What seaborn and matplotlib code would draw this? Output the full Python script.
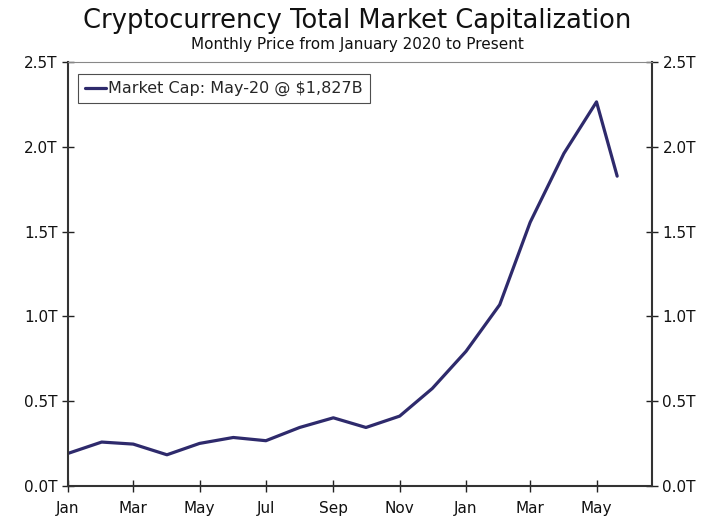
import pandas as pd
import matplotlib
matplotlib.use("Agg")
import matplotlib.pyplot as plt
import matplotlib.dates as mdates
from matplotlib.ticker import FuncFormatter
import seaborn as sns

# Month-start dates plus the latest reading (May 20, 2021)
dates = pd.to_datetime([
    "2020-01-01", "2020-02-01", "2020-03-01", "2020-04-01", "2020-05-01",
    "2020-06-01", "2020-07-01", "2020-08-01", "2020-09-01", "2020-10-01",
    "2020-11-01", "2020-12-01", "2021-01-01", "2021-02-01", "2021-03-01",
    "2021-04-01", "2021-05-01", "2021-05-20",
])
# Total market cap, trillions of USD
market_cap = [
    0.192, 0.259, 0.247, 0.184, 0.251, 0.286, 0.267, 0.345, 0.402, 0.345,
    0.412, 0.575, 0.794, 1.069, 1.555, 1.961, 2.265, 1.827,
]
legend_label = "Market Cap: May-20 @ $1,827B"
line_color = "#2E2A6C"

df = pd.DataFrame({"date": dates, "cap": market_cap})

sns.set_theme(style="white")
plt.rcParams["font.family"] = ["DejaVu Sans"]

fig = plt.figure(figsize=(7.17, 5.17), dpi=100)
ax = fig.add_axes([0.0948, 0.060, 0.8145, 0.820])

sns.lineplot(data=df, x="date", y="cap", ax=ax, color=line_color,
             linewidth=2.3, label=legend_label)

ax.set_xlim(pd.Timestamp("2020-01-01"), pd.Timestamp("2021-06-21"))
ax.set_ylim(0, 2.5)
ax.set_yticks([0, 0.5, 1.0, 1.5, 2.0, 2.5])
ax.yaxis.set_major_formatter(FuncFormatter(lambda v, p: f"{v:.1f}T"))
ax.xaxis.set_major_locator(mdates.MonthLocator(bymonth=[1, 3, 5, 7, 9, 11]))
ax.xaxis.set_major_formatter(mdates.DateFormatter("%b"))
ax.set_xlabel("")
ax.set_ylabel("")

ax.tick_params(axis="both", direction="inout", length=9, width=1.0,
               color="#222222", labelsize=11, labelcolor="#111111")
ax.tick_params(axis="y", right=True, labelright=True, left=True, pad=3)
ax.tick_params(axis="x", bottom=True, pad=6)

for side in ["left", "right", "bottom"]:
    ax.spines[side].set_color("#333333")
    ax.spines[side].set_linewidth(1.5)
ax.spines["top"].set_color("#888888")
ax.spines["top"].set_linewidth(0.8)

leg = ax.legend(loc="upper left", bbox_to_anchor=(0.017, 0.972), fontsize=11.5,
                frameon=True, fancybox=False, handlelength=1.3,
                handletextpad=0.15, borderpad=0.45, borderaxespad=0.0)
leg.get_frame().set_edgecolor("#222222")
leg.get_frame().set_linewidth(0.8)

fig.text(0.498, 0.946, "Cryptocurrency Total Market Capitalization",
         ha="center", va="baseline", fontsize=18.5, color="#111111")
fig.text(0.498, 0.905, "Monthly Price from January 2020 to Present",
         ha="center", va="baseline", fontsize=11, color="#111111")

fig.savefig("out.png", dpi=100)
